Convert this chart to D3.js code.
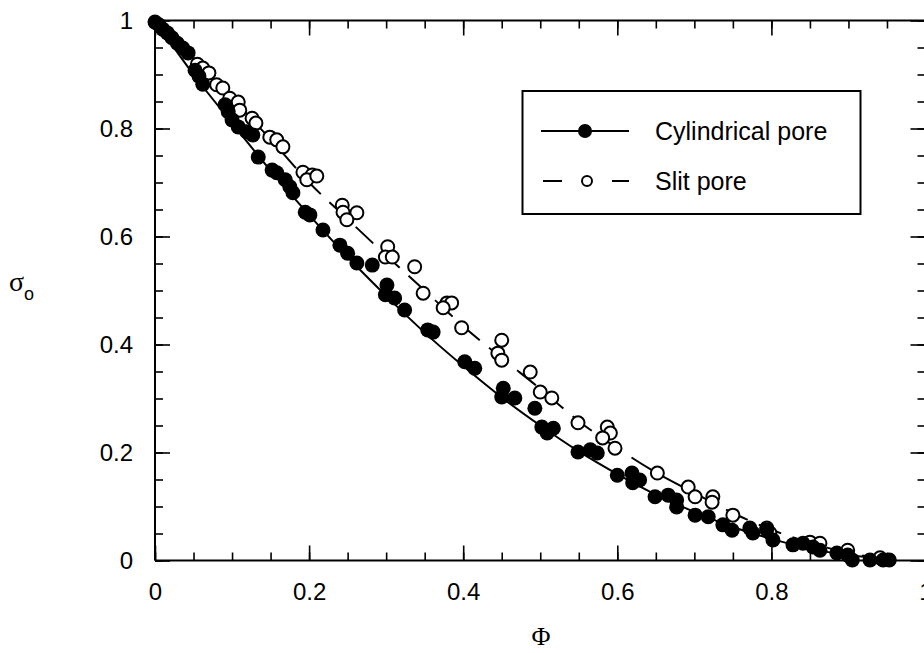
<!DOCTYPE html>
<html lang="en">
<head>
<meta charset="UTF-8">
<title>Reflection coefficient vs Phi</title>
<script src="https://d3js.org/d3.v7.min.js"></script>
<style>
  body { margin: 0; background: #fff; }
  svg { display: block; }
  text { font-family: "Liberation Sans", Arial, sans-serif; fill: #000; }
</style>
</head>
<body>
<svg></svg>
<script>
// tick labels
const tickVals = [0, 0.2, 0.4, 0.6, 0.8, 1];
const tickLabels = ["0", "0.2", "0.4", "0.6", "0.8", "1"];

// cylindrical pore (filled circles)
const cylPhi = [0.000, 0.005, 0.010, 0.016, 0.022, 0.029, 0.036, 0.043, 0.052, 0.057, 0.062,
  0.091, 0.095, 0.100, 0.108, 0.119, 0.127, 0.134, 0.152, 0.158, 0.169, 0.175, 0.179, 0.195,
  0.201, 0.218, 0.240, 0.250, 0.262, 0.282, 0.301, 0.299, 0.311, 0.324, 0.354, 0.361, 0.402,
  0.415, 0.452, 0.450, 0.467, 0.493, 0.502, 0.517, 0.509, 0.549, 0.565, 0.574, 0.600, 0.619,
  0.629, 0.620, 0.649, 0.666, 0.677, 0.677, 0.701, 0.718, 0.737, 0.749, 0.772, 0.776, 0.794,
  0.802, 0.828, 0.841, 0.854, 0.863, 0.885, 0.899, 0.905, 0.928, 0.945, 0.953];
const cylSigma = [0.997, 0.992, 0.984, 0.977, 0.968, 0.958, 0.949, 0.940, 0.908, 0.897, 0.882,
  0.844, 0.831, 0.816, 0.803, 0.794, 0.788, 0.747, 0.723, 0.718, 0.705, 0.692, 0.681, 0.645,
  0.640, 0.612, 0.584, 0.569, 0.551, 0.547, 0.510, 0.492, 0.486, 0.464, 0.427, 0.423, 0.368,
  0.356, 0.319, 0.303, 0.301, 0.282, 0.247, 0.245, 0.236, 0.201, 0.205, 0.199, 0.158, 0.162,
  0.149, 0.144, 0.118, 0.121, 0.112, 0.099, 0.084, 0.081, 0.066, 0.056, 0.060, 0.051, 0.057,
  0.038, 0.029, 0.032, 0.025, 0.019, 0.014, 0.010, 0.001, 0.001, 0.001, 0.001];

// slit pore (open circles)
const slitPhi = [0.055, 0.062, 0.070, 0.080, 0.088, 0.097, 0.108, 0.110, 0.126, 0.131, 0.149,
  0.158, 0.166, 0.192, 0.204, 0.197, 0.210, 0.243, 0.244, 0.262, 0.249, 0.302, 0.299, 0.308,
  0.337, 0.348, 0.379, 0.385, 0.374, 0.398, 0.450, 0.445, 0.450, 0.487, 0.500, 0.515, 0.549,
  0.587, 0.591, 0.581, 0.597, 0.652, 0.692, 0.701, 0.724, 0.723, 0.750, 0.794, 0.798, 0.850,
  0.863, 0.899, 0.941];
const slitSigma = [0.919, 0.912, 0.903, 0.881, 0.875, 0.856, 0.849, 0.834, 0.819, 0.810, 0.784,
  0.779, 0.766, 0.719, 0.714, 0.705, 0.712, 0.658, 0.645, 0.644, 0.631, 0.581, 0.562, 0.562,
  0.544, 0.495, 0.477, 0.477, 0.468, 0.431, 0.408, 0.384, 0.371, 0.349, 0.312, 0.301, 0.255,
  0.247, 0.236, 0.227, 0.208, 0.162, 0.136, 0.118, 0.118, 0.108, 0.084, 0.060, 0.051, 0.034,
  0.032, 0.019, 0.005];

// theory curves
const cylLinePhi = [0, 0.05, 0.1, 0.15, 0.2, 0.25, 0.3, 0.35, 0.4, 0.45, 0.5, 0.55, 0.6, 0.65,
  0.7, 0.75, 0.8, 0.85, 0.9, 0.95];
const cylLineSigma = [1.0, 0.90, 0.81, 0.722, 0.64, 0.562, 0.49, 0.422, 0.36, 0.302, 0.25, 0.202,
  0.16, 0.122, 0.09, 0.062, 0.04, 0.022, 0.01, 0.003];
const slitLinePhi = [0, 0.05, 0.1, 0.15, 0.2, 0.25, 0.3, 0.35, 0.4, 0.45, 0.5, 0.55, 0.6, 0.65,
  0.7, 0.75, 0.8, 0.85, 0.9, 0.95];
const slitLineSigma = [1.0, 0.93, 0.855, 0.78, 0.70, 0.632, 0.565, 0.50, 0.434, 0.375, 0.318,
  0.258, 0.208, 0.163, 0.125, 0.088, 0.057, 0.033, 0.014, 0.003];

const width = 924, height = 653;
const plotL = 155, plotR = 925.5, plotT = 20.5, plotB = 560.5;

const svg = d3.select("svg").attr("width", width).attr("height", height);

const x = d3.scaleLinear().domain([0, 1]).range([plotL, plotR]);
const y = d3.scaleLinear().domain([0, 1]).range([plotB, plotT]);

const minor = d3.range(0, 1.0001, 0.05);
const fmt = d => tickLabels[tickVals.findIndex(v => Math.abs(v - d) < 1e-9)];

// frame lines
svg.append("g").selectAll("line")
  .data([[plotL, plotT, plotL, plotB], [plotL, plotB, plotR, plotB], [plotL, plotT, plotR, plotT], [plotR, plotT, plotR, plotB]])
  .enter().append("line")
  .attr("x1", d => d[0]).attr("y1", d => d[1]).attr("x2", d => d[2]).attr("y2", d => d[3])
  .attr("stroke", "#000").attr("stroke-width", 2);

function axisGroup(axis, tx, ty, labels) {
  const g = svg.append("g").attr("transform", `translate(${tx},${ty})`).call(axis);
  g.select(".domain").remove();
  g.selectAll("line").attr("stroke", "#000").attr("stroke-width", 1.6);
  g.attr("font-family", null).attr("font-size", null);
  g.selectAll("text").style("font-size", "24px");
  if (!labels) g.selectAll("text").remove();
  return g;
}

// minor ticks
axisGroup(d3.axisBottom(x).tickValues(minor).tickSize(-8).tickSizeOuter(0), 0, plotB, false);
axisGroup(d3.axisTop(x).tickValues(minor).tickSize(-8).tickSizeOuter(0), 0, plotT, false);
axisGroup(d3.axisLeft(y).tickValues(minor).tickSize(-8).tickSizeOuter(0), plotL, 0, false);
axisGroup(d3.axisRight(y).tickValues(minor).tickSize(-8).tickSizeOuter(0), plotR, 0, false);
// major ticks
axisGroup(d3.axisBottom(x).tickValues(tickVals).tickFormat(fmt).tickSize(-15).tickPadding(22).tickSizeOuter(0), 0, plotB, true);
axisGroup(d3.axisTop(x).tickValues(tickVals).tickSize(-15).tickSizeOuter(0), 0, plotT, false);
axisGroup(d3.axisLeft(y).tickValues(tickVals).tickFormat(fmt).tickSize(-15).tickPadding(22).tickSizeOuter(0), plotL, 0, true);
axisGroup(d3.axisRight(y).tickValues(tickVals).tickSize(-15).tickSizeOuter(0), plotR, 0, false);

// curves
const line = d3.line().x(d => x(d[0])).y(d => y(d[1])).curve(d3.curveMonotoneX);

svg.append("path")
  .attr("d", line(d3.zip(cylLinePhi, cylLineSigma)))
  .attr("fill", "none").attr("stroke", "#000").attr("stroke-width", 2);

svg.append("path")
  .attr("d", line(d3.zip(slitLinePhi, slitLineSigma)))
  .attr("fill", "none").attr("stroke", "#000").attr("stroke-width", 2)
  .attr("stroke-dasharray", "24,12");

// slit pore points
svg.append("g").selectAll("circle")
  .data(d3.zip(slitPhi, slitSigma))
  .enter().append("circle")
  .attr("cx", d => x(d[0])).attr("cy", d => y(d[1])).attr("r", 6.5)
  .attr("fill", "#fff").attr("stroke", "#000").attr("stroke-width", 2);

// cylindrical pore points
svg.append("g").selectAll("circle")
  .data(d3.zip(cylPhi, cylSigma))
  .enter().append("circle")
  .attr("cx", d => x(d[0])).attr("cy", d => y(d[1])).attr("r", 7.5)
  .attr("fill", "#000");

// legend
const lg = svg.append("g");
lg.append("rect").attr("x", 522.5).attr("y", 91).attr("width", 338).attr("height", 123)
  .attr("fill", "#fff").attr("stroke", "#000").attr("stroke-width", 2);
lg.append("line").attr("x1", 541).attr("x2", 629).attr("y1", 131).attr("y2", 131)
  .attr("stroke", "#000").attr("stroke-width", 2);
lg.append("circle").attr("cx", 585).attr("cy", 131).attr("r", 7).attr("fill", "#000");
lg.append("text").attr("x", 655).attr("y", 131).attr("dy", "0.35em")
  .style("font-size", "25px").text("Cylindrical pore");

lg.append("line").attr("x1", 543).attr("x2", 562).attr("y1", 181).attr("y2", 181)
  .attr("stroke", "#000").attr("stroke-width", 2);
lg.append("line").attr("x1", 612).attr("x2", 629).attr("y1", 181).attr("y2", 181)
  .attr("stroke", "#000").attr("stroke-width", 2);
lg.append("circle").attr("cx", 587).attr("cy", 181).attr("r", 5)
  .attr("fill", "#fff").attr("stroke", "#000").attr("stroke-width", 2);
lg.append("text").attr("x", 655).attr("y", 181).attr("dy", "0.35em")
  .style("font-size", "25px").text("Slit pore");

// axis titles
svg.append("text").attr("x", 541).attr("y", 645).attr("text-anchor", "middle")
  .style("font-family", "'Liberation Serif', 'Times New Roman', serif")
  .style("font-size", "26px").text("Φ");

const yt = svg.append("text").attr("x", 9).attr("y", 291)
  .style("font-family", "'Liberation Serif', 'Times New Roman', serif").style("font-size", "28px");
yt.append("tspan").text("σ");
yt.append("tspan").attr("dy", 9).style("font-family", "'Liberation Sans', Arial, sans-serif")
  .style("font-size", "18px").text("o");
</script>
</body>
</html>
